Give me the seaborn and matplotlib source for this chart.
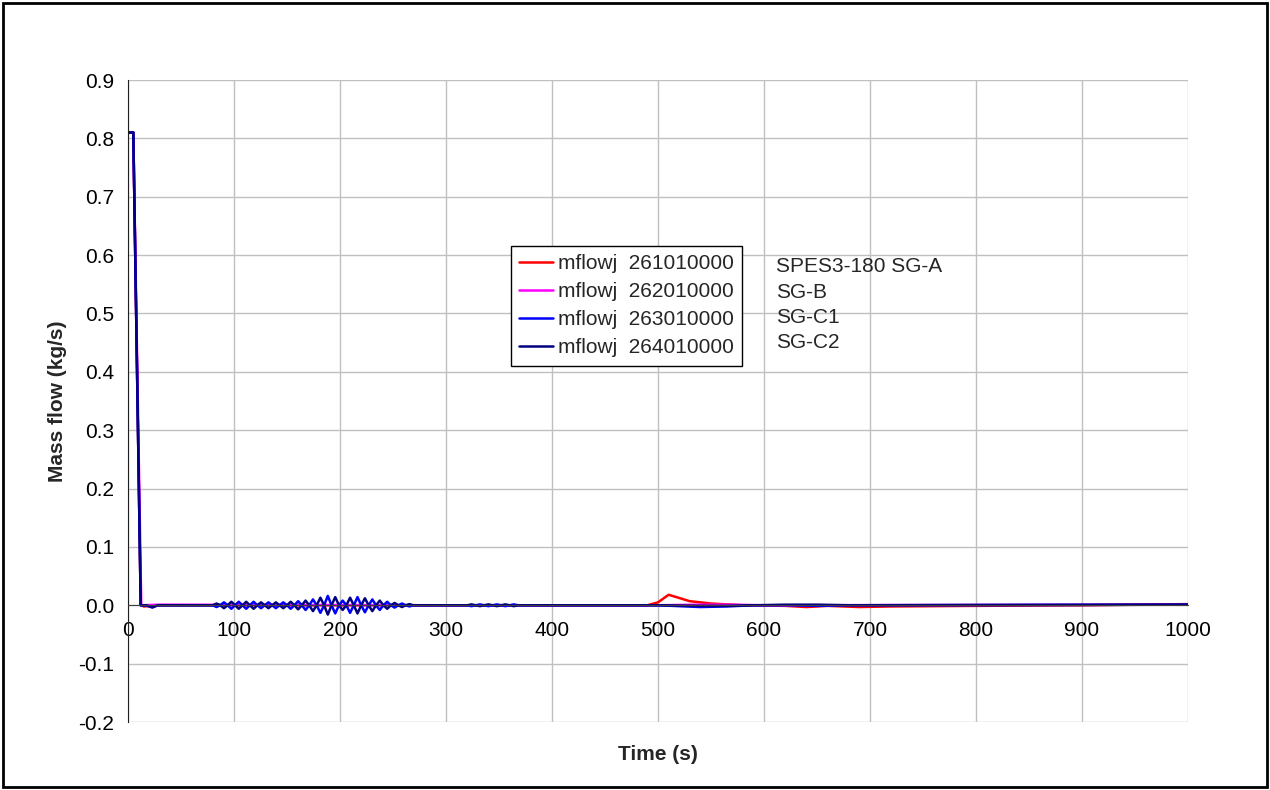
import pandas as pd
import numpy as np
import seaborn as sns
import matplotlib.pyplot as plt
from matplotlib.patches import Rectangle

# series names and colours
names = ['mflowj  261010000', 'mflowj  262010000', 'mflowj  263010000', 'mflowj  264010000']
colors = ['#FF0000', '#FF00FF', '#0000FF', '#000080']
notes = ['SPES3-180 SG-A', 'SG-B', 'SG-C1', 'SG-C2']

# 261 (SG-A), red
red_t = [0, 5, 12, 15, 30, 490, 500, 510, 530, 550, 580, 620, 640, 660, 690, 720, 800, 900, 1000]
red_v = [0.81, 0.81, 0.0, -0.002, 0.0, 0.0, 0.005, 0.018, 0.007, 0.003, 0.0, -0.001, -0.003, -0.001,
         -0.003, -0.002, -0.001, 0.0, 0.002]

# 262 (SG-B), magenta
mag_t = [0, 5, 12.5, 30, 300, 500, 540, 570, 600, 1000]
mag_v = [0.81, 0.81, 0.0, 0.001, 0.0, 0.0, 0.001, 0.001, 0.0, 0.001]

# oscillation window shared by 263 / 264
osc_t = [80, 83.5, 87, 90.5, 94, 97.5, 101, 104.5, 108, 111.5, 115, 118.5, 122, 125.5, 129, 132.5,
         136, 139.5, 143, 146.5, 150, 153.5, 157, 160.5, 164, 167.5, 171, 174.5, 178, 181.5, 185,
         188.5, 192, 195.5, 199, 202.5, 206, 209.5, 213, 216.5, 220, 223.5, 227, 230.5, 234, 237.5,
         241, 244.5, 248, 251.5, 255, 258.5, 262, 265.5, 269]
navy_osc = [0, 0.003, 0, -0.005, 0, 0.006, 0, -0.006, 0, 0.006, 0, -0.006, 0, 0.005, 0, -0.005,
            0, 0.005, 0, -0.005, 0, 0.006, 0, -0.007, 0, 0.008, 0, -0.010, 0, 0.013, 0,
            -0.016, 0, 0.014, 0, -0.008, 0, 0.013, 0, -0.014, 0, 0.012, 0, -0.010, 0, 0.008,
            0, -0.006, 0, 0.004, 0, -0.003, 0, 0.002, 0]
blue_osc = [0, -0.003, 0, 0.005, 0, -0.006, 0, 0.006, 0, -0.006, 0, 0.006, 0, -0.005, 0, 0.005,
            0, -0.005, 0, 0.005, 0, -0.006, 0, 0.007, 0, -0.008, 0, 0.010, 0, -0.013, 0,
            0.016, 0, -0.014, 0, 0.008, 0, -0.013, 0, 0.014, 0, -0.012, 0, 0.010, 0, -0.008,
            0, 0.006, 0, -0.004, 0, 0.003, 0, -0.002, 0]

head_t = [0, 5, 12, 17, 23, 28]
navy_head = [0.81, 0.81, 0.0, 0.0, -0.003, 0.0]
blue_head = [0.81, 0.81, 0.0, 0.0, -0.004, 0.0]

small_t = [320, 324, 328, 332, 336, 340, 344, 348, 352, 356, 360, 364, 368, 372]
navy_small = [0, 0.0015, 0, -0.0015, 0, 0.0015, 0, -0.0015, 0, 0.0015, 0, -0.0015, 0, 0]
blue_small = [0, -0.0015, 0, 0.0015, 0, -0.0015, 0, 0.0015, 0, -0.0015, 0, 0.0015, 0, 0]

tail_t = [450, 500, 540, 565, 590, 620, 650, 680, 1000]
navy_tail = [0, 0, -0.001, -0.001, 0, 0.001, 0.001, 0, 0.001]
blue_tail = [0, 0, -0.003, -0.002, 0, 0, -0.001, 0, 0.001]

series = [
    (names[0], red_t, red_v),
    (names[1], mag_t, mag_v),
    (names[2], head_t + osc_t + small_t + tail_t, blue_head + blue_osc + blue_small + blue_tail),
    (names[3], head_t + osc_t + small_t + tail_t, navy_head + navy_osc + navy_small + navy_tail),
]
df = pd.concat([pd.DataFrame({'Time': t, 'Flow': v, 'Series': n}) for n, t, v in series],
               ignore_index=True)

sns.set_style('white')
plt.rcParams['font.family'] = ['Liberation Sans', 'DejaVu Sans']
fs = 15

fig = plt.figure(figsize=(12.7, 7.9), dpi=100)
ax = fig.add_axes([128 / 1270, 1 - 722 / 790, 1060 / 1270, 642 / 790])

sns.lineplot(data=df, x='Time', y='Flow', hue='Series', hue_order=names, palette=colors,
             estimator=None, sort=False, lw=1.8, ax=ax)

ax.set_xlim(0, 1000)
ax.set_ylim(-0.2, 0.9)
ax.set_xticks(np.arange(0, 1001, 100))
ax.set_yticks(np.round(np.arange(-0.2, 0.91, 0.1), 1))
ax.yaxis.set_major_formatter(plt.FormatStrFormatter('%.1f'))
ax.grid(True, color='#C0C0C0', lw=1)
ax.set_axisbelow(True)

for s in ['top', 'right']:
    ax.spines[s].set_visible(False)
ax.spines['bottom'].set_position(('data', 0))
ax.spines['bottom'].set_color('#404040')
ax.spines['left'].set_color('#202020')
ax.tick_params(axis='both', direction='out', length=5, width=1, labelsize=fs, colors='black')
ax.tick_params(axis='y', pad=5)
ax.tick_params(axis='x', pad=6)

ax.set_xlabel('Time (s)', fontsize=fs, fontweight='bold')
ax.set_ylabel('Mass flow (kg/s)', fontsize=fs, fontweight='bold')
ax.xaxis.set_label_coords(0.5, -0.036)
ax.yaxis.set_label_coords(-0.058, 0.5)

handles, labels = ax.get_legend_handles_labels()
ax.legend(handles, labels, loc='upper left', bbox_to_anchor=(511 / 1270, 1 - 246 / 790),
          bbox_transform=fig.transFigure, fontsize=fs, frameon=True, fancybox=False,
          edgecolor='black', framealpha=1, handlelength=1.6, handletextpad=0.25,
          labelspacing=0.43, borderpad=0.4, borderaxespad=0)
ax.get_legend().get_frame().set_linewidth(1)

for i, txt in enumerate(notes):
    fig.text(776 / 1270, 1 - (267 + 25.3 * i) / 790, txt, fontsize=fs, va='center', ha='left')

fig.patches.append(Rectangle((3 / 1270, 3 / 790), 1 - 6 / 1270, 1 - 6 / 790,
                             transform=fig.transFigure, fill=False, lw=2, ec='black'))

fig.savefig('out.png', dpi=100)
